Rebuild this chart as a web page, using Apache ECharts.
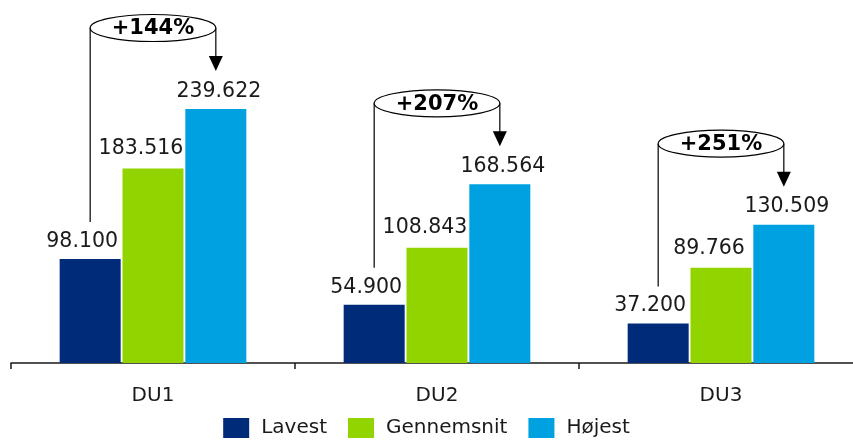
<!DOCTYPE html>
<html>
<head>
<meta charset="utf-8">
<script src="https://cdn.jsdelivr.net/npm/echarts@6/dist/echarts.min.js"></script>
<style>
  html, body { margin: 0; padding: 0; background: #fff; }
  #chart { width: 853px; height: 442px; }
</style>
</head>
<body>
<div id="chart"></div>
<script>
// data
var categories = ['DU1', 'DU2', 'DU3']
var seriesNames = ['Lavest', 'Gennemsnit', 'Højest']
var lavest = [98.100, 54.900, 37.200]
var gennemsnit = [183.516, 108.843, 89.766]
var hojest = [239.622, 168.564, 130.509]
var increases = ['+144%', '+207%', '+251%']

var colors = ['#002b78', '#92d400', '#00a1e0']
var labelShift = [-8, -15, 3]
var font = '"DejaVu Sans", Verdana, sans-serif'

function fmt(v) {
  return v.toFixed(3)
}

var chart = echarts.init(document.getElementById('chart'))

function labelStyle(i) {
  var l = {
    show: true,
    position: 'top',
    distance: 7,
    offset: [labelShift[i], 0],
    fontFamily: font,
    fontSize: 20.5,
    color: '#1a1a1a',
    formatter: function (p) { return fmt(p.value) }
  }
  // the middle label hides the connector line behind it
  if (i === 1) {
    l.backgroundColor = '#fff'
    l.padding = [2, 0, 2, 6]
  }
  return l
}

var allData = [lavest, gennemsnit, hojest]
var series = []
for (var i = 0; i < seriesNames.length; i++) {
  series.push({
    name: seriesNames[i],
    type: 'bar',
    barWidth: 61,
    barGap: '3%',
    data: allData[i],
    itemStyle: { color: colors[i] },
    label: labelStyle(i)
  })
}

var option = {
  animation: false,
  textStyle: { fontFamily: font },
  grid: { left: 11, width: 852, top: 45, bottom: 79, outerBoundsMode: 'none', containLabel: false },
  legend: {
    top: 413,
    left: 'center',
    itemWidth: 26,
    itemHeight: 20,
    itemGap: 21,
    icon: 'rect',
    textStyle: { fontFamily: font, fontSize: 20, color: '#1a1a1a', padding: [0, 0, 0, 7] },
    data: seriesNames
  },
  xAxis: {
    type: 'category',
    data: categories,
    axisLine: { lineStyle: { color: '#1a1a1a', width: 1.5 } },
    axisTick: { show: true, length: 6, lineStyle: { color: '#1a1a1a', width: 1.5 } },
    axisLabel: { margin: 23, fontFamily: font, fontSize: 20, color: '#1a1a1a' }
  },
  yAxis: {
    type: 'value',
    min: 0,
    max: 300,
    show: false,
    splitLine: { show: false }
  },
  series: series
}
chart.setOption(option)

// arrows with percentage ellipses, placed from the bar layout
function barLayout(si, di) {
  return chart.getModel().getSeriesByIndex(si).getData().getItemLayout(di)
}

var elements = []
for (var k = 0; k < categories.length; k++) {
  var low = barLayout(0, k)
  var high = barLayout(2, k)
  var x1 = low.x + low.width / 2
  var x2 = high.x + high.width / 2
  var lowTop = Math.min(low.y, low.y + low.height)
  var highTop = Math.min(high.y, high.y + high.height)
  var ey = highTop - 81
  var tip = highTop - 38

  elements.push({
    type: 'polyline',
    z: 0,
    shape: { points: [[x1, lowTop - 37], [x1, ey]] },
    style: { stroke: '#000', lineWidth: 1.2, fill: null }
  })
  elements.push({
    type: 'polyline',
    z: 0,
    shape: { points: [[x2, ey], [x2, tip - 14]] },
    style: { stroke: '#000', lineWidth: 1.2, fill: null }
  })
  elements.push({
    type: 'polygon',
    z: 0,
    shape: { points: [[x2 - 7, tip - 15], [x2 + 7, tip - 15], [x2, tip]] },
    style: { fill: '#000' }
  })
  elements.push({
    type: 'ellipse',
    z: 1,
    shape: { cx: (x1 + x2) / 2, cy: ey, rx: (x2 - x1) / 2, ry: 13.5 },
    style: { fill: '#fff', stroke: '#000', lineWidth: 1.2 }
  })
  elements.push({
    type: 'text',
    z: 2,
    x: (x1 + x2) / 2,
    y: ey + 1,
    style: {
      text: increases[k],
      fontFamily: font,
      fontSize: 21,
      fontWeight: 'bold',
      fill: '#000',
      align: 'center',
      verticalAlign: 'middle'
    }
  })
}
chart.setOption({ graphic: { elements: elements } })
</script>
</body>
</html>
